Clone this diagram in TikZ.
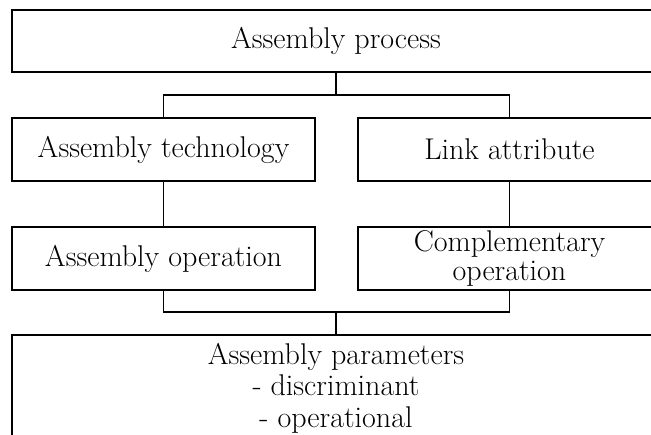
\documentclass[tikz,border=0pt]{standalone}
\begin{document}
\begin{tikzpicture}[x=1pt,y=-1pt,
  box/.style={draw, line width=1.5pt, inner sep=0pt, align=center,
    font=\fontsize{30}{31.5}\selectfont},
  wide/.style={box, minimum width=648pt},
  half/.style={box, minimum width=303pt, minimum height=63pt},
  link/.style={line width=1.5pt}]
\useasboundingbox (0,0) rectangle (651,435);
\clip (0,0) rectangle (651,435);
\node[wide, minimum height=62pt] (top) at (336,41) {Assembly process};
\node[half] (tl) at (163.5,149.5) {Assembly technology};
\node[half] (tr) at (509.5,149.5) {Link attribute};
\node[half] (bl) at (163.5,258.5) {Assembly operation};
\node[half, font=\fontsize{30}{29}\selectfont] (br) at (509.5,258.5) {Complementary\\operation};
\node[wide, minimum height=106pt] (bot) at (336,388) {Assembly parameters\\- discriminant\\- operational};
\coordinate (j1) at (336,95);
\coordinate (j2) at (336,312);
\draw[link] (top.south) -- (j1);
\draw[link] (tl.north) |- (j1) -| (tr.north);
\draw[link] (tl.south) -- (bl.north);
\draw[link] (tr.south) -- (br.north);
\draw[link] (bl.south) |- (j2) -| (br.south);
\draw[link] (j2) -- (bot.north);
\end{tikzpicture}
\end{document}
